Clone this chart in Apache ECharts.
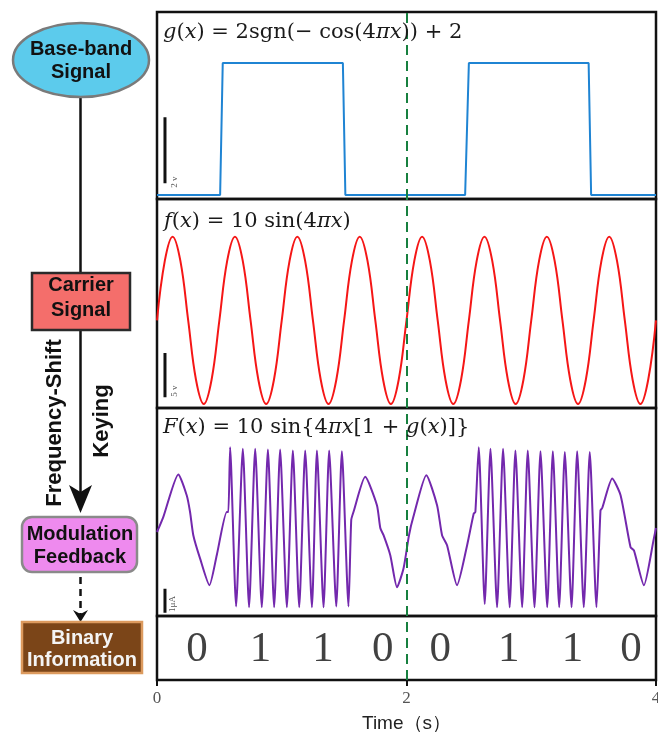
<!DOCTYPE html>
<html>
<head>
<meta charset="utf-8">
<script src="https://cdn.jsdelivr.net/npm/echarts@6/dist/echarts.min.js"></script>
<style>html,body{margin:0;padding:0;background:#fff}#c{width:658px;height:732px}</style>
</head>
<body>
<div id="c"></div>
<script>
// ---- data ----
var baseX = [0, 0.506, 0.527, 1.49, 1.51, 2.47, 2.50, 3.46, 3.48, 4.0];
var baseY = [0, 0, 4, 4, 0, 0, 4, 4, 0, 0];

var carrierX = [0,0.0625,0.125,0.1875,0.25,0.3125,0.375,0.4375,0.5,0.5625,0.625,0.6875,0.75,0.8125,0.875,0.9375,
  1,1.0625,1.125,1.1875,1.25,1.3125,1.375,1.4375,1.5,1.5625,1.625,1.6875,1.75,1.8125,1.875,1.9375,
  2,2.0625,2.125,2.1875,2.25,2.3125,2.375,2.4375,2.5,2.5625,2.625,2.6875,2.75,2.8125,2.875,2.9375,
  3,3.0625,3.125,3.1875,3.25,3.3125,3.375,3.4375,3.5,3.5625,3.625,3.6875,3.75,3.8125,3.875,3.9375,4];
var carrierY = [0,7.1,10,7.1,0,-7.1,-10,-7.1,0,7.1,10,7.1,0,-7.1,-10,-7.1,
  0,7.1,10,7.1,0,-7.1,-10,-7.1,0,7.1,10,7.1,0,-7.1,-10,-7.1,
  0,7.1,10,7.1,0,-7.1,-10,-7.1,0,7.1,10,7.1,0,-7.1,-10,-7.1,
  0,7.1,10,7.1,0,-7.1,-10,-7.1,0,7.1,10,7.1,0,-7.1,-10,-7.1,0];

var modX = [0, 0.051, 0.171, 0.238, 0.265, 0.291, 0.345, 0.420, 0.479, 0.559, 0.572,
  0.586, 0.634, 0.688, 0.738, 0.787, 0.840, 0.889, 0.939, 0.987, 1.041,
  1.089, 1.140, 1.188, 1.242, 1.282, 1.335, 1.380, 1.437, 1.482, 1.535,
  1.557, 1.575, 1.669, 1.763, 1.790, 1.816, 1.870, 1.924, 1.977, 2.02,
  2.055, 2.159, 2.245, 2.285, 2.325, 2.405, 2.486, 2.539, 2.552,
  2.579, 2.627, 2.673, 2.726, 2.774, 2.827, 2.873, 2.927, 2.972, 3.026,
  3.074, 3.128, 3.173, 3.224, 3.269, 3.323, 3.368, 3.421, 3.469, 3.523,
  3.555, 3.569, 3.649, 3.716, 3.796, 3.823, 3.903, 3.983, 4.0];
var modY = [-0.6, 1.3, 6.6, 4.0, 1.9, -1.0, -3.9, -7.25, -3.5, 1.9, 1.9,
  10, -9.9, 9.8, -10, 9.8, -10, 9.7, -10, 9.7, -10,
  9.6, -10, 9.6, -10, 9.6, -10, 9.6, -9.9, 9.5, -9.9,
  0.9, 1.9, 6.3, 2.75, -0.1, -1.0, -3.5, -7.5, -5.1, -1.0,
  1.3, 6.5, 2.75, -1.0, -2.25, -7.25, -2.25, 1.7, 1.9,
  10, -9.6, 9.8, -10, 9.8, -10, 9.6, -10, 9.6, -10,
  9.5, -10, 9.5, -10, 9.4, -10, 9.5, -10, 9.4, -10,
  2.1, 2.4, 6.1, 4.0, -2.5, -2.9, -7.25, -1.4, -0.1];

var bitX = [0.32, 0.83, 1.33, 1.81, 2.27, 2.82, 3.33, 3.80];
var bitLabels = ['0', '1', '1', '0', '0', '1', '1', '0'];
var xTicks = [0, 2, 4];

// scale bars (data units of each panel)
var bar1 = [[0.064, 0.36], [0.064, 2.36]];
var bar2 = [[0.064, -9.2], [0.064, -3.9]];
var bar3 = [[0.064, -10.7], [0.064, -7.7]];

function pairs(xs, ys) { return xs.map(function (x, i) { return [x, ys[i]]; }); }

var chart = echarts.init(document.getElementById('c'), null, {renderer: 'canvas'});

var L = 157, W = 499;
var grids = [
  {left: L, width: W, top: 12, height: 187},
  {left: L, width: W, top: 199, height: 209},
  {left: L, width: W, top: 408, height: 208},
  {left: L, width: W, top: 616, height: 64}
].map(function (g) {
  g.show = true; g.borderColor = '#111'; g.borderWidth = 2.5; g.backgroundColor = 'transparent';
  g.containLabel = false; g.outerBoundsMode = 'none';
  return g;
});

var yRanges = [[-0.12, 5.55], [-10.48, 14.5], [-11.1, 14.9], [0, 1]];

var xAxes = grids.map(function (g, i) {
  var a = {type: 'value', gridIndex: i, min: 0, max: 4, splitLine: {show: false}, axisLine: {show: false}};
  if (i < 3) { a.show = false; }
  else {
    a.interval = 2;
    a.axisTick = {show: true, length: 6, lineStyle: {color: '#111', width: 2}};
    a.axisLabel = {fontFamily: 'Liberation Serif', fontSize: 17, color: '#555', margin: 10,
      formatter: function (v) { return xTicks.indexOf(v) >= 0 ? String(v) : ''; }};
    a.name = 'Time（s）';
    a.nameLocation = 'middle';
    a.nameGap = 34;
    a.nameTextStyle = {fontFamily: 'Liberation Sans', fontSize: 19, color: '#222'};
  }
  return a;
});
var yAxes = yRanges.map(function (r, i) {
  return {type: 'value', gridIndex: i, min: r[0], max: r[1], show: false, splitLine: {show: false}};
});

var mark = {silent: true, symbol: 'none', label: {show: false},
  lineStyle: {color: '#17803f', width: 2, type: [10, 6]}, data: [{xAxis: 2}]};

function barSeries(idx, d) {
  return {type: 'line', xAxisIndex: idx, yAxisIndex: idx, data: d, symbol: 'none', silent: true,
    lineStyle: {color: '#111', width: 3}, z: 5};
}

var series = [
  {type: 'line', xAxisIndex: 0, yAxisIndex: 0, data: pairs(baseX, baseY), symbol: 'none',
    lineStyle: {color: '#1f84d3', width: 2}, markLine: mark},
  {type: 'line', xAxisIndex: 1, yAxisIndex: 1, data: pairs(carrierX, carrierY), symbol: 'none', smooth: 0.4,
    lineStyle: {color: '#f51616', width: 2}, markLine: mark},
  {type: 'line', xAxisIndex: 2, yAxisIndex: 2, data: pairs(modX, modY), symbol: 'none', smooth: 0.2,
    lineStyle: {color: '#7328ad', width: 2}, markLine: mark},
  {type: 'scatter', xAxisIndex: 3, yAxisIndex: 3, symbolSize: 1, itemStyle: {color: 'rgba(0,0,0,0)'},
    data: bitX.map(function (x, i) { return {value: [x, 0.47], name: bitLabels[i]}; }),
    label: {show: true, position: 'inside', formatter: function (p) { return p.name; },
      fontFamily: 'Liberation Serif', fontSize: 43, color: '#111'}, markLine: mark},
  barSeries(0, bar1), barSeries(1, bar2), barSeries(2, bar3)
];

var boldFont = 'Liberation Sans';
function ctext(x, y, t, size, color, lh, rot) {
  return {type: 'text', x: x, y: y, rotation: rot || 0, z: 20,
    style: {text: t, align: 'center', verticalAlign: 'middle', textAlign: 'center', textVerticalAlign: 'middle',
      fontFamily: boldFont, fontWeight: 'bold', fontSize: size, fill: color, lineHeight: lh || size}};
}
var MF = 'DejaVu Serif', MS = 21;
function mathText(x, y, t) {
  return {type: 'text', x: x, y: y, z: 20,
    style: {text: t, fontFamily: MF, fontSize: MS, fill: '#1a1a1a',
      verticalAlign: 'middle', textVerticalAlign: 'middle',
      rich: {i: {fontStyle: 'italic', fontFamily: MF, fontSize: MS, fill: '#1a1a1a'}}}};
}
function smallRot(x, y, t) {
  return {type: 'text', x: x, y: y, rotation: Math.PI / 2, z: 20,
    style: {text: t, align: 'center', verticalAlign: 'middle', textAlign: 'center', textVerticalAlign: 'middle',
      fontFamily: 'Liberation Serif', fontSize: 9, fill: '#555'}};
}

var graphic = [
  // left flow diagram
  {type: 'line', shape: {x1: 80.5, y1: 96, x2: 80.5, y2: 492}, style: {stroke: '#111', lineWidth: 2.5}, z: 10},
  {type: 'ellipse', shape: {cx: 81, cy: 60, rx: 68, ry: 37}, style: {fill: '#5ccbec', stroke: '#7a7a7a', lineWidth: 2.5}, z: 11},
  ctext(81, 61, 'Base-band\nSignal', 20, '#111', 23),
  {type: 'rect', shape: {x: 32, y: 273, width: 98, height: 57}, style: {fill: '#f46e6b', stroke: '#2a2a2a', lineWidth: 2.5}, z: 11},
  ctext(81, 298, 'Carrier\nSignal', 20, '#111', 25),
  {type: 'polygon', shape: {points: [[69, 485], [80.5, 492], [92, 485], [80.5, 513]]}, style: {fill: '#111'}, z: 11},
  ctext(55, 423, 'Frequency-Shift', 22, '#111', 22, Math.PI / 2),
  ctext(102, 421, 'Keying', 22, '#111', 22, Math.PI / 2),
  {type: 'rect', shape: {x: 22, y: 517, width: 115, height: 55, r: 10}, style: {fill: '#ee8aee', stroke: '#8a8a8a', lineWidth: 2.5}, z: 11},
  ctext(80, 546, 'Modulation\nFeedback', 20, '#111', 23),
  {type: 'line', shape: {x1: 80.5, y1: 577, x2: 80.5, y2: 614}, style: {stroke: '#111', lineWidth: 2.5, lineDash: [7, 5]}, z: 10},
  {type: 'polygon', shape: {points: [[73, 610], [80.5, 614], [88, 610], [80.5, 622]]}, style: {fill: '#111'}, z: 11},
  {type: 'rect', shape: {x: 22, y: 622, width: 120, height: 51}, style: {fill: '#7b4518', stroke: '#dc9a5e', lineWidth: 2.5}, z: 11},
  ctext(82, 649, 'Binary\nInformation', 20, '#f4f4f4', 22),
  // formulas
  mathText(163, 33, '{i|g}({i|x}) = 2sgn(− cos(4{i|πx})) + 2'),
  mathText(164, 222, '{i|f}({i|x}) = 10 sin(4{i|πx})'),
  mathText(163, 428, '{i|F}({i|x}) = 10 sin{4{i|πx}[1 + {i|g}({i|x})]}'),
  // scale bar labels
  smallRot(175, 182, '2 v'),
  smallRot(175, 391, '5 v'),
  smallRot(173, 604, '1μA')
];

chart.setOption({
  animation: false,
  backgroundColor: '#fff',
  grid: grids,
  xAxis: xAxes,
  yAxis: yAxes,
  series: series,
  graphic: graphic
});
</script>
</body>
</html>
